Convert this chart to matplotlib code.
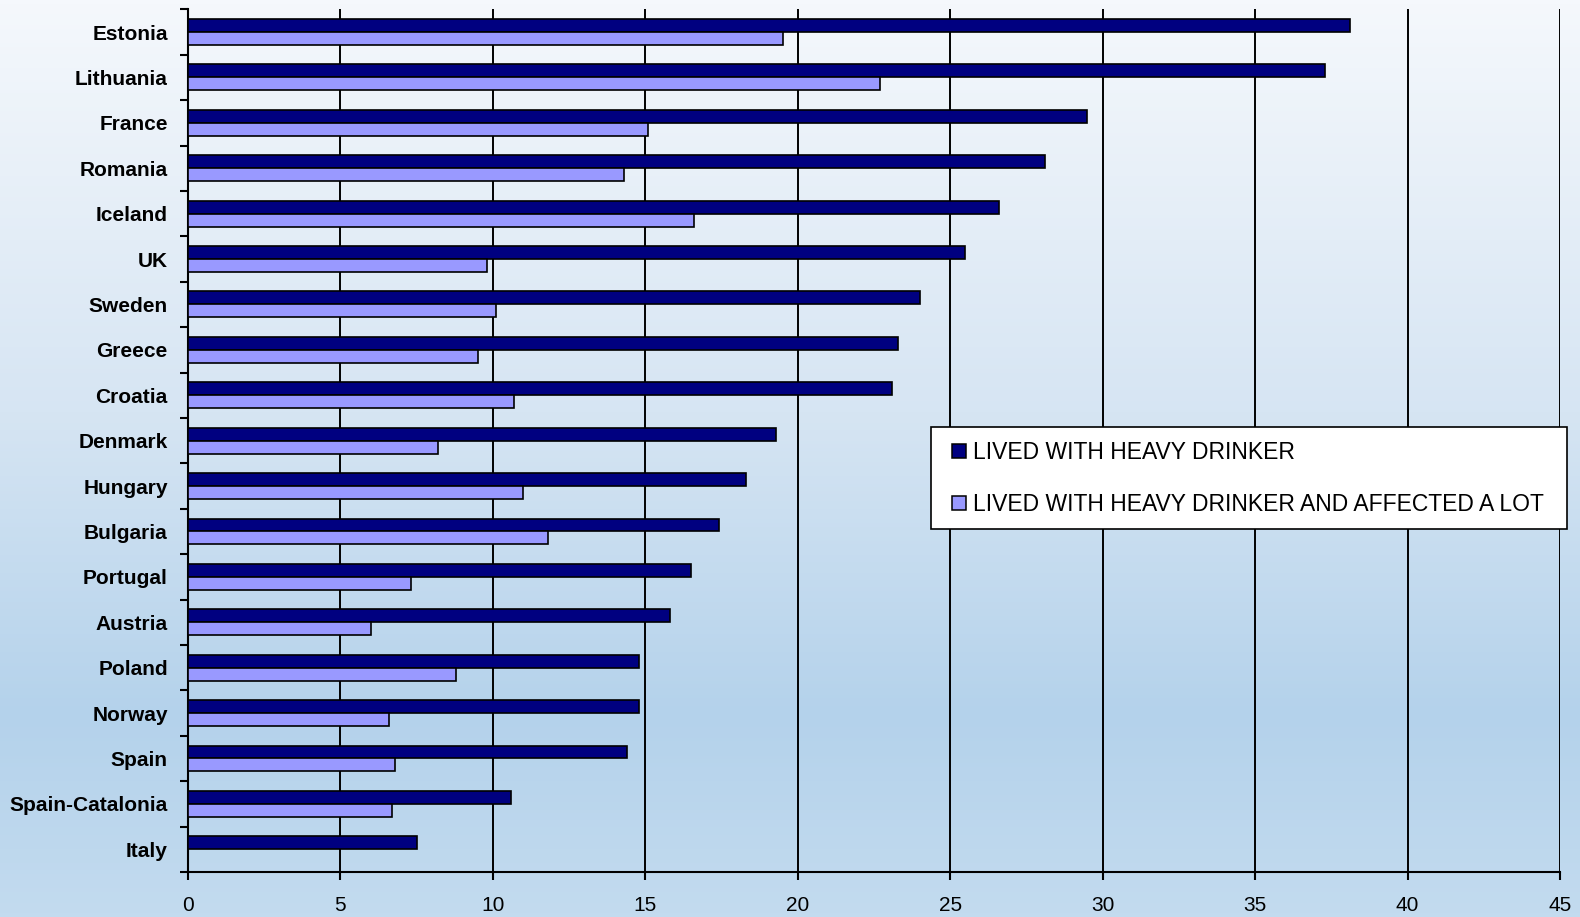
import numpy as np
import matplotlib
matplotlib.use("Agg")
import matplotlib.pyplot as plt
from matplotlib.colors import LinearSegmentedColormap
from matplotlib.lines import Line2D

countries = ["Estonia", "Lithuania", "France", "Romania", "Iceland", "UK",
             "Sweden", "Greece", "Croatia", "Denmark", "Hungary", "Bulgaria",
             "Portugal", "Austria", "Poland", "Norway", "Spain",
             "Spain-Catalonia", "Italy"]

lived_with = [38.1, 37.3, 29.5, 28.1, 26.6, 25.5,
              24.0, 23.3, 23.1, 19.3, 18.3, 17.4,
              16.5, 15.8, 14.8, 14.8, 14.4,
              10.6, 7.5]

affected_a_lot = [19.5, 22.7, 15.1, 14.3, 16.6, 9.8,
                  10.1, 9.5, 10.7, 8.2, 11.0, 11.8,
                  7.3, 6.0, 8.8, 6.6, 6.8,
                  6.7, None]

series_labels = ["LIVED WITH HEAVY DRINKER",
                 "LIVED WITH HEAVY DRINKER AND AFFECTED A LOT"]
x_ticks = [0, 5, 10, 15, 20, 25, 30, 35, 40, 45]

plt.rcParams["font.family"] = ["Liberation Sans", "DejaVu Sans"]

fig = plt.figure(figsize=(15.8, 9.17), dpi=100)

# Soft vertical gradient behind everything
bg = fig.add_axes([0, 0, 1, 1], zorder=-10)
grad_cmap = LinearSegmentedColormap.from_list(
    "bg", [(0.0, "#f5f8fc"), (0.45, "#d6e5f3"), (0.78, "#b4d2eb"), (1.0, "#c3dbef")])
grad = np.linspace(0, 1, 256).reshape(-1, 1)
bg.imshow(grad, aspect="auto", cmap=grad_cmap, extent=[0, 1, 1, 0])
bg.axis("off")

ax = fig.add_axes([188 / 1580, 1 - 872 / 917, (1560 - 188) / 1580, (872 - 9.3) / 917])
ax.patch.set_alpha(0)

y = np.arange(len(countries))
h = 0.285

dark = "#000080"
light = "#9999ff"

ax.barh(y - h / 2, lived_with, height=h, color=dark, edgecolor="black",
        linewidth=1.2, zorder=3)

ly = [yy + h / 2 for yy, v in zip(y, affected_a_lot) if v is not None]
lv = [v for v in affected_a_lot if v is not None]
ax.barh(ly, lv, height=h, color=light, edgecolor="black",
        linewidth=1.2, zorder=3)

ax.set_xlim(0, 45)
ax.set_ylim(len(countries) - 0.5, -0.5)

ax.set_xticks(x_ticks)
ax.set_xticklabels([str(t) for t in x_ticks], fontsize=15)
ax.set_yticks(y)
ax.set_yticklabels(countries, fontsize=15, fontweight="bold")
ax.set_yticks(np.arange(len(countries) + 1) - 0.5, minor=True)

ax.tick_params(axis="y", which="major", length=0, pad=14.5)
ax.tick_params(axis="y", which="minor", length=6, width=1.5, direction="out", color="black")
ax.tick_params(axis="x", which="major", length=6, width=1.5, direction="out", pad=11)

ax.xaxis.grid(True, color="black", linewidth=1.4)
ax.set_axisbelow(True)

for s in ["top", "right"]:
    ax.spines[s].set_visible(False)
for s in ["left", "bottom"]:
    ax.spines[s].set_linewidth(1.5)
    ax.spines[s].set_color("black")

handles = [Line2D([], [], linestyle="none", marker="s", markersize=9.6,
                  markerfacecolor=c, markeredgecolor="black", markeredgewidth=1.1)
           for c in (dark, light)]

leg = fig.legend(handles, series_labels, loc="upper left",
                 bbox_to_anchor=(931 / 1580, 1 - 428 / 917, (1567 - 931) / 1580, 0.001),
                 mode="expand", fontsize=16.5, frameon=True, fancybox=False,
                 framealpha=1, edgecolor="black", handlelength=1.22,
                 handletextpad=0.0, labelspacing=1.26, borderpad=0.6, borderaxespad=0)
leg.get_frame().set_linewidth(1.2)

fig.savefig("out.png", dpi=100)
